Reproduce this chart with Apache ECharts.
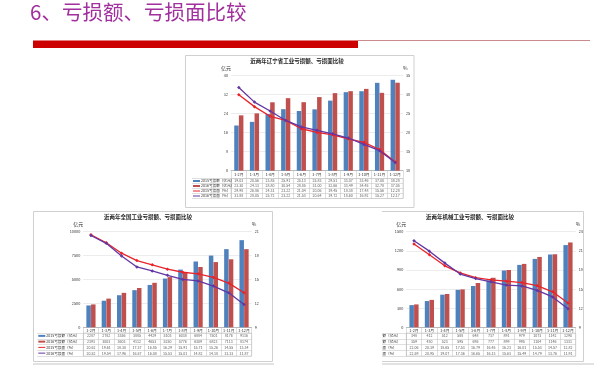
<!DOCTYPE html>
<html><head><meta charset="utf-8">
<script src="https://cdn.jsdelivr.net/npm/echarts@6/dist/echarts.min.js"></script>
<style>html,body{margin:0;padding:0;background:#fff}#c{width:594px;height:367px}</style>
</head><body><div id="c"></div>
<script>
const categories = ['1-2月','1-3月','1-4月','1-5月','1-6月','1-7月','1-8月','1-9月','1-10月','1-11月','1-12月'];
const seriesNames = ['2015亏损额（亿元）','2016亏损额（亿元）','2015亏损面（%）','2016亏损面（%）'];
const chartTitles = ['近两年辽宁省工业亏损额、亏损面比较','近两年全国工业亏损额、亏损面比较','近两年机械工业亏损额、亏损面比较'];
// chart 1
const c1Loss2015 = [19.03,20.56,23.85,25.91,25.13,25.83,29.51,33.07,33.46,37.00,38.28];
const c1Loss2016 = [23.30,24.13,28.80,30.54,28.85,31.00,32.66,33.49,34.45,32.78,37.05];
const c1Rate2015 = [29.98,26.86,24.31,23.22,21.04,20.06,19.45,18.38,17.48,15.56,12.28];
const c1Rate2016 = [31.88,28.05,25.72,23.22,21.53,20.64,19.72,18.60,16.92,15.27,12.17];
// chart 2
const c2Loss2015 = [2287,2782,3356,3885,4429,5103,6038,6884,7501,8176,9116];
const c2Loss2016 = [2393,3003,3603,4112,4653,5250,5776,6309,6823,7113,8174];
const c2Rate2015 = [20.62,19.61,18.30,17.37,16.85,16.29,15.91,15.71,15.26,14.55,13.34];
const c2Rate2016 = [20.52,19.54,17.96,16.57,16.08,15.53,15.01,14.82,14.18,13.33,11.87];
// chart 3
const c3Loss2015 = [348,412,512,588,648,737,891,979,1073,1142,1290];
const c3Loss2016 = [359,430,523,595,695,777,899,995,1104,1146,1331];
const c3Rate2015 = [22.06,20.39,18.65,17.53,16.79,16.45,16.23,16.01,15.53,14.57,12.82];
const c3Rate2016 = [22.59,20.95,19.07,17.36,16.65,16.13,15.63,15.49,14.79,13.76,11.91];
// axis scales
const c1Left = {min:0, max:40, interval:8};
const c1Right = {min:10, max:35, interval:5};
const c2Left = {min:0, max:10000, interval:2500};
const c2Right = {min:9, max:21, interval:3};
const c3Left = {min:0, max:1500, interval:300};
const c3Right = {min:9, max:24, interval:3};

const FONT = '"Noto Sans CJK SC", "Noto Sans", sans-serif';
const BLUE = '#4f81bd', RED = '#c0504d', LRED = '#e8232a', LPUR = '#6236a3';
const GRIDC = '#bfbfbf';

const charts = [
  {loss:[c1Loss2015,c1Loss2016], rate:[c1Rate2015,c1Rate2016], left:c1Left, right:c1Right, dec:2,
   plot:{left:231, top:75.7, width:172, height:95}, tblTop:178.5, tblH:20, legW:39},
  {loss:[c2Loss2015,c2Loss2016], rate:[c2Rate2015,c2Rate2016], left:c2Left, right:c2Right, dec:0,
   plot:{left:83.3, top:231.7, width:168.4, height:95.6}, tblTop:333, tblH:23, legW:46},
  {loss:[c3Loss2015,c3Loss2016], rate:[c3Rate2015,c3Rate2016], left:c3Left, right:c3Right, dec:0,
   plot:{left:406.3, top:231.7, width:169.4, height:95.6}, tblTop:333, tblH:23, legW:48}
];

const grid = [], xAxis = [], yAxis = [], series = [];
const markRich = {
  m0:{width:7, height:2, backgroundColor:BLUE},
  m1:{width:7, height:2, backgroundColor:RED},
  m2:{width:7, height:1, backgroundColor:LRED},
  m3:{width:7, height:1, backgroundColor:LPUR},
  t:{fontSize:3.6, color:'#333', fontFamily:FONT, padding:[0,0,0,1]}
};
const plain = (v) => String(v);
charts.forEach((c, k) => {
  const p = c.plot;
  grid.push({left:p.left, top:p.top, width:p.width, height:p.height});
  grid.push({left:p.left, top:c.tblTop, width:p.width, height:c.tblH, show:true, borderColor:GRIDC, borderWidth:0.5});
  xAxis.push({type:'category', gridIndex:2*k, data:categories,
    axisLine:{lineStyle:{color:'#999', width:0.6}},
    axisTick:{show:true, interval:0, length:c.tblTop - (p.top + p.height), lineStyle:{color:GRIDC, width:0.5}},
    axisLabel:{fontSize:3.8, color:'#333', margin:1.8, interval:0, fontFamily:FONT}});
  xAxis.push({type:'category', gridIndex:2*k+1, data:categories,
    axisLine:{show:false}, axisTick:{show:false}, axisLabel:{show:false},
    splitLine:{show:true, interval:0, lineStyle:{color:GRIDC, width:0.5}}});
  yAxis.push({type:'value', gridIndex:2*k, min:c.left.min, max:c.left.max, interval:c.left.interval,
    name:'亿元', nameLocation:'end', nameGap:5, nameTextStyle:{fontSize:5, color:'#333', align:'right', fontFamily:FONT},
    axisLine:{show:false}, axisTick:{show:false},
    axisLabel:{fontSize:3.8, color:'#333', margin:3, fontFamily:FONT, formatter:plain},
    splitLine:{show:true, lineStyle:{color:'#d9d9d9', width:0.5}}});
  yAxis.push({type:'value', gridIndex:2*k, min:c.right.min, max:c.right.max, interval:c.right.interval, position:'right',
    name:'%', nameLocation:'end', nameGap:5, nameTextStyle:{fontSize:5, color:'#333', align:'left', fontFamily:FONT},
    axisLine:{show:false}, axisTick:{show:false},
    axisLabel:{fontSize:3.8, color:'#333', margin:3, fontFamily:FONT, formatter:plain},
    splitLine:{show:false}});
  yAxis.push({type:'category', gridIndex:2*k+1, data:[0,1,2,3], inverse:true,
    axisLine:{show:true, lineStyle:{color:GRIDC, width:0.5}},
    axisTick:{show:true, interval:0, length:c.legW, lineStyle:{color:GRIDC, width:0.5}},
    axisLabel:{interval:0, align:'left', margin:c.legW - 1,
      formatter:(v) => '{m' + v + '|}{t|' + seriesNames[v] + '}', rich:markRich},
    splitLine:{show:true, interval:0, lineStyle:{color:GRIDC, width:0.5}}});
  const xi = 2*k, yl = 3*k, yr = 3*k+1;
  series.push({type:'bar', name:seriesNames[0], xAxisIndex:xi, yAxisIndex:yl, data:c.loss[0], barWidth:4.5, barGap:'4%', itemStyle:{color:BLUE}});
  series.push({type:'bar', name:seriesNames[1], xAxisIndex:xi, yAxisIndex:yl, data:c.loss[1], barWidth:4.5, barGap:'4%', itemStyle:{color:RED}});
  series.push({type:'line', name:seriesNames[2], xAxisIndex:xi, yAxisIndex:yr, data:c.rate[0], symbol:'diamond', symbolSize:3.5,
    lineStyle:{color:LRED, width:1.3}, itemStyle:{color:LRED}, z:5});
  series.push({type:'line', name:seriesNames[3], xAxisIndex:xi, yAxisIndex:yr, data:c.rate[1], symbol:'diamond', symbolSize:3.5,
    lineStyle:{color:LPUR, width:1.3}, itemStyle:{color:LPUR}, z:5});
  // table cells
  const rows = [c.loss[0], c.loss[1], c.rate[0], c.rate[1]];
  const cells = [];
  rows.forEach((arr, r) => arr.forEach((v, i) => {
    const txt = r < 2 ? v.toFixed(c.dec) : v.toFixed(2);
    cells.push([i, r, txt]);
  }));
  series.push({type:'scatter', xAxisIndex:2*k+1, yAxisIndex:3*k+2, data:cells, symbolSize:0, silent:true,
    label:{show:true, position:'inside', formatter:(pp) => pp.value[2], fontSize:3.6, color:'#333', fontFamily:FONT}});
});

const graphic = [
  {type:'text', left:30, top:2, style:{text:'6、亏损额、亏损面比较', fontSize:20.5, fill:'#a12f9d', fontFamily:FONT}},
  {type:'rect', shape:{x:33, y:40.5, width:325, height:7.5}, style:{fill:'#cc0000'}},
  {type:'line', shape:{x1:358, y1:40.5, x2:590, y2:40.5}, style:{stroke:'#c98b8b', lineWidth:1}},
  {type:'rect', shape:{x:185.5, y:55.5, width:228.5, height:152}, style:{fill:'none', stroke:'#d0d0d0', lineWidth:1}, z:-1},
  {type:'rect', shape:{x:33.5, y:211.5, width:239, height:150}, style:{fill:'none', stroke:'#d0d0d0', lineWidth:1}, z:-1},
  {type:'rect', shape:{x:350.5, y:211.5, width:233, height:150}, style:{fill:'none', stroke:'#d0d0d0', lineWidth:1}, z:-1},
  {type:'line', shape:{x1:33, y1:364, x2:594, y2:364}, style:{stroke:'#d8d8d8', lineWidth:1.5}},
  {type:'rect', shape:{x:274, y:208, width:108, height:159}, style:{fill:'#fff'}, z:100},
  {type:'text', x:297, y:58, style:{text:chartTitles[0], fontSize:5.5, fontWeight:'bold', fill:'#222', align:'center', fontFamily:FONT}},
  {type:'text', x:148, y:214.5, style:{text:chartTitles[1], fontSize:5.5, fontWeight:'bold', fill:'#222', align:'center', fontFamily:FONT}},
  {type:'text', x:470, y:214.5, style:{text:chartTitles[2], fontSize:5.5, fontWeight:'bold', fill:'#222', align:'center', fontFamily:FONT}}
];

const chart = echarts.init(document.getElementById('c'), null, {renderer:'canvas'});
chart.setOption({animation:false, backgroundColor:'#fff', grid, xAxis, yAxis, series, graphic});
</script>
</body></html>
